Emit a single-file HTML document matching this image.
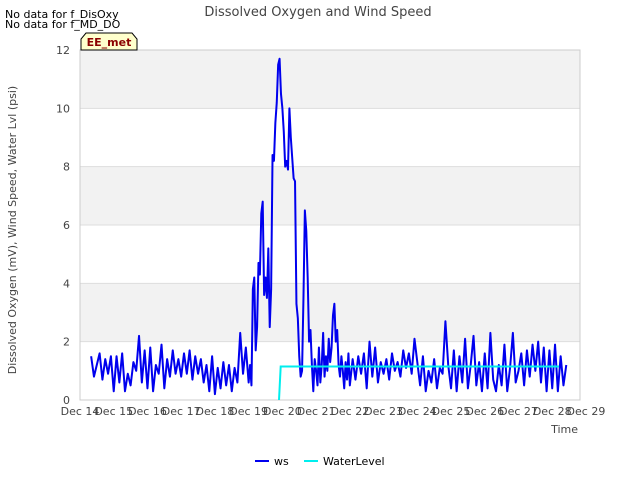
<!DOCTYPE html>
<html><head><meta charset="utf-8"><style>
body{margin:0;background:#fff;font-family:"DejaVu Sans","Liberation Sans",sans-serif;}
svg text{font-family:"DejaVu Sans","Liberation Sans",sans-serif;}
</style></head><body>
<svg id="c" width="640" height="480">
<text x="5" y="18" font-size="11" fill="#000">No data for f_DisOxy</text>
<text x="5" y="28" font-size="11" fill="#000">No data for f_MD_DO</text>
<text x="318" y="16" font-size="13" fill="#444" text-anchor="middle">Dissolved Oxygen and Wind Speed</text>
<g id="plot"></g>
<path d="M81,50 L81,39 L86,33 L132,33 L137,39 L137,50 Z" fill="#ffffcc" stroke="#000" stroke-width="1"/>
<text x="109" y="46" font-size="11" font-weight="bold" fill="#8b0000" text-anchor="middle">EE_met</text>
<text x="16" y="230" font-size="11" fill="#444" text-anchor="middle" transform="rotate(-90 16 230)">Dissolved Oxygen (mV), Wind Speed, Water Lvl (psi)</text>
<text x="578" y="433" font-size="11" fill="#444" text-anchor="end">Time</text>
<line x1="255" y1="461" x2="269" y2="461" stroke="#0000ee" stroke-width="2"/>
<text x="274" y="465" font-size="11" fill="#000">ws</text>
<line x1="304" y1="461" x2="318" y2="461" stroke="#00eeee" stroke-width="2"/>
<text x="323" y="465" font-size="11" fill="#000">WaterLevel</text>
</svg>
<script>
const yTicks=[0,2,4,6,8,10,12];
const xTickLabels=["Dec 14","Dec 15","Dec 16","Dec 17","Dec 18","Dec 19","Dec 20","Dec 21","Dec 22","Dec 23","Dec 24","Dec 25","Dec 26","Dec 27","Dec 28","Dec 29"];
const wsDec14=[1.5,0.8,1.2,1.6,0.7,1.4,0.9,1.5];
const wsDec15=[0.3,1.5,0.6,1.6,0.3,0.9,0.5,1.3,1.0,2.2,0.6,1.7];
const wsDec16=[0.4,1.8,0.3,1.2,0.9,1.9,0.4,1.4,0.8,1.7,0.9,1.4];
const wsDec17=[0.8,1.6,0.9,1.7,0.7,1.5,0.9,1.4,0.6,1.2,0.3,1.5];
const wsDec18=[0.2,1.1,0.4,1.3,0.5,1.2,0.3,1.1,0.6,2.3,0.9,1.8];
const wsDec19=[0.6,1.2,0.5,3.8,4.2,1.7,2.5,4.7,4.3,6.4,6.8,3.6,4.2,3.5,5.2,2.5,3.8,8.4,8.2,9.5,10.2,11.5,11.7,10.5];
const wsDec20=[10.0,9.2,8.0,8.2,7.9,10.0,9.0,8.3,7.6,7.5,3.3,2.8,1.5,0.8,1.0,3.5,6.5,5.8,4.2,2.0,2.4,1.2,0.3,1.4];
const wsDec21=[1.0,0.5,1.8,0.6,1.2,2.3,0.8,1.5,1.0,2.1,1.3,1.8,2.9,3.3,2.0,2.4,1.2,0.8,1.5,1.0,0.4,1.3,0.7,1.6];
const wsDec22=[0.5,1.4,0.7,1.5,0.9,1.6,0.4,2.0,0.8,1.8,0.6,1.3];
const wsDec23=[0.9,1.4,0.7,1.6,1.0,1.3,0.8,1.7,1.1,1.6,0.9,2.1];
const wsDec24=[1.3,0.5,1.5,0.3,1.0,0.6,1.4,0.4,1.1,0.9,2.7,1.2];
const wsDec25=[0.4,1.7,0.3,1.5,0.6,2.1,0.4,1.2,2.2,0.5,1.3,0.3];
const wsDec26=[1.6,0.4,2.3,0.7,0.3,1.2,0.5,1.9,0.3,1.1,2.3,0.6];
const wsDec27=[1.0,1.6,0.5,1.7,0.8,1.9,1.0,2.0,0.6,1.8,0.3,1.7];
const wsDec28=[0.4,1.9,0.3,1.5,0.5,1.2];
const wlTimes=[5.9,5.95,6.8,14.2];
const wlValues=[0,1.15,1.15,1.15];
const NS="http://www.w3.org/2000/svg";
const X0=80,X1=580,Y0=400,Y1=50,DX=33.73;
function xs(d){return X0+d*DX;}
function ys(v){return Y0-(v/12)*(Y0-Y1);}
const g=document.getElementById('plot');
function mk(t,a){const e=document.createElementNS(NS,t);for(const k in a)e.setAttribute(k,a[k]);g.appendChild(e);return e;}
for(let i=0;i<6;i++){
 const r=mk('rect',{x:X0,y:ys(yTicks[i+1]),width:X1-X0,height:ys(yTicks[i])-ys(yTicks[i+1]),fill:i%2?'#f2f2f2':'#ffffff'});
 
 
}
yTicks.forEach(v=>{
 const l=mk('line',{x1:X0,x2:X1,y1:ys(v),y2:ys(v),stroke:'#dddddd'});
 
 
 const t=mk('text',{x:X0-10,y:ys(v)+4,'font-size':11,fill:'#444','text-anchor':'end'});
 t.textContent=v;
 
 
});
const fr=mk('rect',{x:X0,y:Y1,width:X1-X0,height:Y0-Y1,fill:'none',stroke:'#cccccc'});


xTickLabels.forEach((s,i)=>{
 const t=mk('text',{x:xs(i),y:Y0+15,'font-size':11,fill:'#444','text-anchor':'middle'});
 t.textContent=s;
 
 
});
const days=[[0.33,1,wsDec14],[1,2,wsDec15],[2,3,wsDec16],[3,4,wsDec17],[4,5,wsDec18],[5,6,wsDec19],[6,7,wsDec20],[7,8,wsDec21],[8,9,wsDec22],[9,10,wsDec23],[10,11,wsDec24],[11,12,wsDec25],[12,13,wsDec26],[13,14,wsDec27],[14,14.5,wsDec28]];
const pts=[];
days.forEach(([a,b,arr])=>{arr.forEach((v,i)=>{pts.push(xs(a+(b-a)*i/arr.length)+','+ys(v));});});
const ws=mk('polyline',{points:pts.join(' '),fill:'none',stroke:'#0000ee','stroke-width':2,'stroke-linejoin':'round'});


const wl=mk('polyline',{points:wlTimes.map((t,i)=>xs(t)+','+ys(wlValues[i])).join(' '),fill:'none',stroke:'#00eeee','stroke-width':2});


</script>
</body></html>
